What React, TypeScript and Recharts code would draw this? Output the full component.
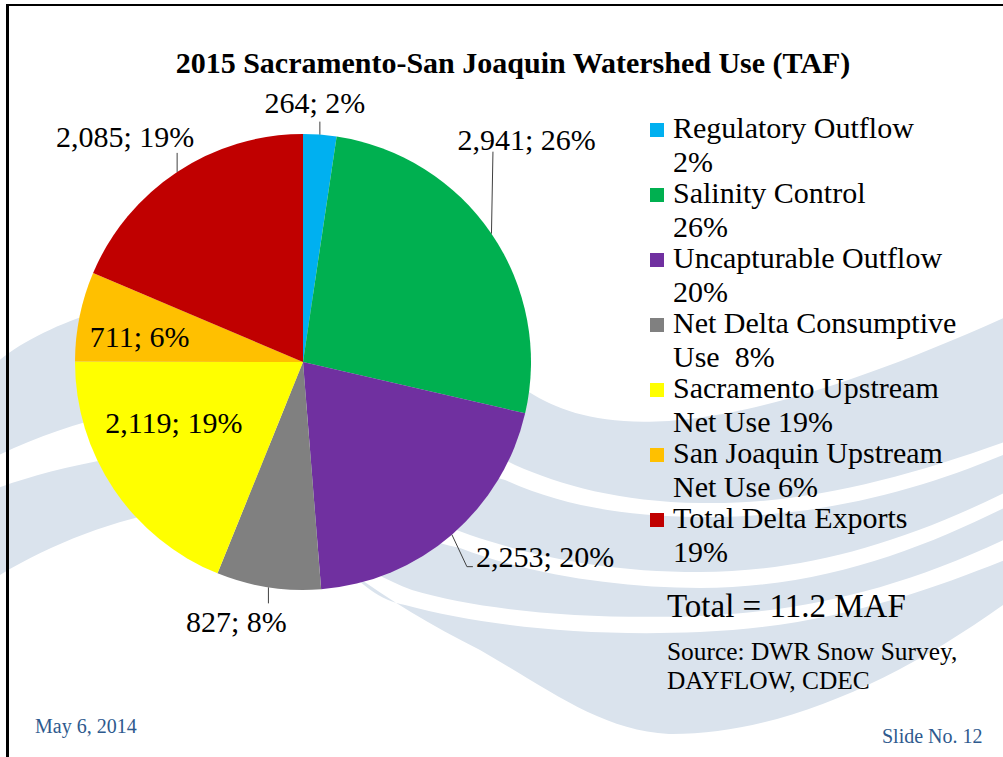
import { Cell, Legend, Pie, PieChart } from "recharts";

// 2015 watershed use, thousand acre-feet, clockwise from 12 o'clock
const categories = [
  "Regulatory Outflow",
  "Salinity Control",
  "Uncapturable Outflow",
  "Net Delta Consumptive",
  "Sacramento Upstream",
  "San Joaquin Upstream",
  "Total Delta Exports",
];
const legendSecondLines = ["2%", "26%", "20%", "Use  8%", "Net Use 19%", "Net Use 6%", "19%"];
const volumesTaf = [264, 2941, 2253, 827, 2119, 711, 2085];
const shownPercents = [2, 26, 20, 8, 19, 6, 19];

const colors = ["#00B0F0", "#00B050", "#7030A0", "#808080", "#FFFF00", "#FFC000", "#C00000"];

const data = categories.map((name, i) => ({ name, value: volumesTaf[i] }));

const FONT = '"Liberation Serif", "Times New Roman", serif';
const RAD = Math.PI / 180;

// where each data label sits, relative to the outer edge point of its slice
const labelPlacement: { dx: number; dy: number; anchor: "start" | "middle"; leader: number[][] | null }[] = [
  { dx: -5, dy: -22, anchor: "middle", leader: [[0, 0], [0, -13]] },
  { dx: -34, dy: -84, anchor: "start", leader: [[0, 0], [1.5, -82]] },
  { dx: 24, dy: 32, anchor: "start", leader: [[0, 0], [15, 32], [21, 32]] },
  { dx: -32, dy: 45, anchor: "middle", leader: [[0, 0], [0, 16]] },
  { dx: 60, dy: -56, anchor: "middle", leader: null },
  { dx: 60, dy: 31, anchor: "middle", leader: null },
  { dx: -52, dy: -25, anchor: "middle", leader: [[0, 0], [0, -19]] },
];

function renderLabel(props: any) {
  const { cx, cy, midAngle, outerRadius, index, value } = props;
  const ex = cx + outerRadius * Math.cos(-midAngle * RAD);
  const ey = cy + outerRadius * Math.sin(-midAngle * RAD);
  const p = labelPlacement[index];
  return (
    <g key={`lbl-${index}`}>
      {p.leader && (
        <polyline
          points={p.leader.map(([x, y]) => `${ex + x},${ey + y}`).join(" ")}
          fill="none"
          stroke="#404040"
          strokeWidth={1}
        />
      )}
      <text x={ex + p.dx} y={ey + p.dy} textAnchor={p.anchor} fontFamily={FONT} fontSize={30} fill="#000">
        {`${Number(value).toLocaleString("en-US")}; ${shownPercents[index]}%`}
      </text>
    </g>
  );
}

function SlideLegend() {
  return (
    <svg width={363} height={480} style={{ display: "block" }}>
      {categories.map((name, i) => {
        const base = 38 + i * 65;
        return (
          <g key={name}>
            <rect x={10} y={base - 15} width={14} height={14} fill={colors[i]} />
            <text x={33} y={base} fontFamily={FONT} fontSize={30} fill="#000">
              {name}
            </text>
            <text x={33} y={base + 34} fontFamily={FONT} fontSize={30} fill="#000" style={{ whiteSpace: "pre" }}>
              {legendSecondLines[i]}
            </text>
          </g>
        );
      })}
    </svg>
  );
}

// light blue swooshes of the slide background
function Waves() {
  const fill = "#DAE3ED";
  return (
    <svg width={1003} height={757} style={{ position: "absolute", left: 0, top: 0 }}>
      <path
        d="M -5 364 C 80 290, 350 230, 529 392 C 590 430, 700 455, 1010 315 L 1010 440 C 900 480, 800 505, 700 503 C 620 502, 560 485, 515 465 C 350 380, 150 380, -5 457 Z"
        fill={fill}
      />
      <path
        d="M -5 489 C 100 450, 300 420, 505 480 C 560 505, 620 516, 700 517 C 820 518, 920 490, 1010 452 L 1010 490 C 900 545, 800 572, 700 572 C 600 572, 530 555, 470 535 C 300 470, 120 500, -5 578 Z"
        fill={fill}
      />
      <path
        d="M 300 480 C 380 520, 420 540, 460 548 C 530 575, 620 588, 700 588 C 820 588, 920 550, 1010 505 L 1010 537 C 900 590, 800 612, 700 616 C 580 620, 480 610, 412 590 C 360 570, 320 540, 300 520 Z"
        fill={fill}
      />
      <path
        d="M 340 560 C 360 585, 380 600, 405 605 C 480 625, 580 637, 700 632 C 830 627, 930 590, 1010 558 L 1010 600 C 900 680, 780 735, 669 734 C 600 730, 550 690, 480 650 C 430 625, 390 600, 350 572 Z"
        fill={fill}
      />
    </svg>
  );
}

export default function App() {
  return (
    <div
      style={{
        position: "absolute",
        left: 0,
        top: 0,
        width: 1003,
        height: 757,
        background: "#fff",
        overflow: "hidden",
        fontFamily: FONT,
      }}
    >
      <Waves />
      <div style={{ position: "absolute", left: 0, top: 0 }}>
        <PieChart width={1003} height={757} margin={{ top: 0, right: 0, bottom: 0, left: 0 }}>
          <Pie
            data={data}
            dataKey="value"
            nameKey="name"
            cx={303}
            cy={362}
            outerRadius={228}
            startAngle={90}
            endAngle={-270}
            stroke="none"
            label={renderLabel}
            labelLine={false}
            isAnimationActive={false}
          >
            {data.map((d, i) => (
              <Cell key={d.name} fill={colors[i]} />
            ))}
          </Pie>
          <Legend
            layout="vertical"
            align="right"
            verticalAlign="top"
            content={() => <SlideLegend />}
            wrapperStyle={{ left: 640, top: 100, width: 363 }}
          />
        </PieChart>
      </div>
      <svg width={1003} height={757} style={{ position: "absolute", left: 0, top: 0, pointerEvents: "none" }}>
        <text x={513} y={73} textAnchor="middle" fontFamily={FONT} fontWeight="bold" fontSize={30} fill="#000">
          2015 Sacramento-San Joaquin Watershed Use (TAF)
        </text>
        <text x={667} y={617} fontFamily={FONT} fontSize={33} fill="#000">
          Total = 11.2 MAF
        </text>
        <text x={667} y={660} fontFamily={FONT} fontSize={25.4} fill="#000">
          Source: DWR Snow Survey,
        </text>
        <text x={667} y={689} fontFamily={FONT} fontSize={25.4} fill="#000">
          DAYFLOW, CDEC
        </text>
        <text x={35} y={733} fontFamily={FONT} fontSize={20} fill="#2E5A8E">
          May 6, 2014
        </text>
        <text x={882} y={743} fontFamily={FONT} fontSize={20} fill="#2E5A8E">
          Slide No. 12
        </text>
      </svg>
      <div
        style={{
          position: "absolute",
          left: 6,
          top: 4,
          width: 1010,
          height: 760,
          borderTop: "2px solid #000",
          borderLeft: "3px solid #000",
          boxSizing: "border-box",
        }}
      />
    </div>
  );
}
